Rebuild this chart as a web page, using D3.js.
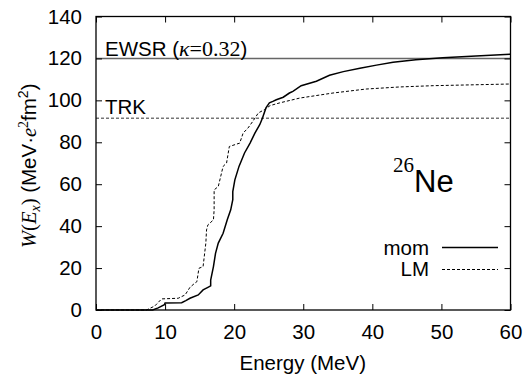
<!DOCTYPE html>
<html>
<head>
<meta charset="utf-8">
<script src="https://cdn.jsdelivr.net/npm/d3@7"></script>
<style>
  body { margin: 0; background: #fff; }
  svg { display: block; font-family: "Liberation Sans", Arial, sans-serif; }
  .serif { font-family: "Liberation Serif", "Times New Roman", serif; }
</style>
</head>
<body>
<svg id="chart" width="532" height="375"></svg>
<script>
"use strict";

// ── Data ────────────────────────────────────────────────────────────────────
const xTicks = [0, 10, 20, 30, 40, 50, 60];
const yTicks = [0, 20, 40, 60, 80, 100, 120, 140];

const EWSR = 120;
const TRK = 91.5;

// cumulative strength, "mom" (solid)
const momE = [0, 8.2, 9.0, 9.9, 10.0, 12.4, 13.0, 13.6, 14.8, 15.5, 16.2, 16.6, 16.6, 17.0, 17.3, 17.7,
  18.4, 19.0, 19.5, 19.8, 19.8, 20.1, 20.7, 21.5, 22.3, 23.0, 23.7, 24.1, 24.6, 25.1, 25.6, 26.1,
  27.1, 28.0, 28.5, 29.7, 31.9, 33.8, 35.8, 38.2, 40.6, 43.0, 46.3, 50.2, 55.0, 60.0];
const momW = [0, 0, 1.0, 2.5, 3.3, 3.5, 4.5, 5.6, 7.2, 9.6, 10.8, 11.5, 14.3, 20.7, 27.0, 31.9,
  36.6, 43.0, 47.8, 52.6, 56.5, 62.1, 68.5, 74.9, 79.6, 84.4, 88.4, 91.6, 96.4, 98.8, 99.5, 100.3,
  101.5, 103.5, 104.3, 107.0, 109.1, 112.0, 113.7, 115.3, 116.8, 118.2, 119.4, 120.3, 121.2, 122.0];

// cumulative strength, "LM" (dashed)
const lmE = [0, 7.3, 8.5, 9.5, 11.9, 12.9, 13.6, 14.3, 14.6, 14.9, 15.5, 15.9, 16.0, 16.2, 17.0, 17.1,
  17.1, 17.7, 18.4, 18.9, 19.3, 20.8, 21.3, 22.0, 22.7, 23.5, 24.4, 25.2, 26.6, 29.5, 34.3, 39.1,
  44.0, 48.8, 60.0];
const lmW = [0, 0, 1.9, 5.3, 5.6, 7.2, 10.8, 12.8, 13.5, 19.9, 20.7, 31.9, 38.2, 40.6, 43.0, 47.8,
  57.3, 58.9, 68.5, 70.1, 78.0, 79.6, 84.4, 86.8, 90.0, 94.0, 95.6, 97.5, 98.8, 101.1, 103.5, 105.4,
  106.4, 107.0, 107.8];

// ── Layout ──────────────────────────────────────────────────────────────────
const L = 96, R = 510.5, T = 16.5, B = 310;
const FS = 20.5;

const svg = d3.select("#chart");
const x = d3.scaleLinear().domain([0, 60]).range([L, R]);
const y = d3.scaleLinear().domain([0, 140]).range([B, T]);

// reference lines
svg.append("line")
  .attr("x1", L).attr("x2", R).attr("y1", y(EWSR)).attr("y2", y(EWSR))
  .attr("stroke", "#666").attr("stroke-width", 1.4);
svg.append("line")
  .attr("x1", L).attr("x2", R).attr("y1", y(TRK)).attr("y2", y(TRK))
  .attr("stroke", "#333").attr("stroke-width", 1).attr("stroke-dasharray", "3,2");

// curves
const line = d3.line().x(d => x(d[0])).y(d => y(d[1]));
svg.append("path")
  .datum(momE.map((e, i) => [e, momW[i]]))
  .attr("d", line).attr("fill", "none")
  .attr("stroke", "#000").attr("stroke-width", 1.5);
svg.append("path")
  .datum(lmE.map((e, i) => [e, lmW[i]]))
  .attr("d", line).attr("fill", "none")
  .attr("stroke", "#000").attr("stroke-width", 1).attr("stroke-dasharray", "3,2");

// axes (inward ticks on all four sides)
const tk = 6;
svg.append("g").attr("transform", `translate(0,${B})`)
  .call(d3.axisBottom(x).tickValues(xTicks).tickSizeInner(-tk).tickSizeOuter(0).tickPadding(14))
  .call(g => g.select(".domain").remove());
svg.append("g").attr("transform", `translate(0,${T})`)
  .call(d3.axisTop(x).tickValues(xTicks).tickSizeInner(-tk).tickSizeOuter(0).tickFormat(""))
  .call(g => g.select(".domain").remove());
svg.append("g").attr("transform", `translate(${L},0)`)
  .call(d3.axisLeft(y).tickValues(yTicks).tickSizeInner(-tk).tickSizeOuter(0).tickPadding(14))
  .call(g => g.select(".domain").remove());
svg.append("g").attr("transform", `translate(${R},0)`)
  .call(d3.axisRight(y).tickValues(yTicks).tickSizeInner(-tk).tickSizeOuter(0).tickFormat(""))
  .call(g => g.select(".domain").remove());

svg.selectAll(".tick text")
  .attr("font-size", FS).attr("font-family", "Liberation Sans, Arial, sans-serif").attr("fill", "#000");
svg.selectAll(".tick line").attr("stroke", "#000");

svg.append("rect")
  .attr("x", L).attr("y", T).attr("width", R - L).attr("height", B - T)
  .attr("fill", "none").attr("stroke", "#000").attr("stroke-width", 1.3);

// labels
const ew = svg.append("text").attr("x", 105).attr("y", 55.5).attr("font-size", FS);
ew.append("tspan").text("EWSR (");
ew.append("tspan").attr("class", "serif").attr("font-style", "italic").attr("font-size", 22).text("κ");
ew.append("tspan").attr("class", "serif").attr("font-size", 22).text("=0.32");
ew.append("tspan").text(")");

svg.append("text").attr("x", 105).attr("y", 113.5).attr("font-size", FS).text("TRK");

const ne = svg.append("text").attr("x", 393).attr("y", 191.5);
ne.append("tspan").attr("class", "serif").attr("font-size", 21).attr("dy", -20).text("26");
ne.append("tspan").attr("font-size", 31).attr("dy", 20).text("Ne");

// legend
const legend = [["mom", "none", 1.5, 247.5, 255], ["LM", "3,2", 1, 269.5, 276]];
legend.forEach(([name, dash, w, ly, ty]) => {
  svg.append("text").attr("x", 429).attr("y", ty).attr("font-size", FS)
    .attr("text-anchor", "end").text(name);
  svg.append("line").attr("x1", 442).attr("x2", 498).attr("y1", ly).attr("y2", ly)
    .attr("stroke", "#000").attr("stroke-width", w).attr("stroke-dasharray", dash);
});

// axis titles
svg.append("text").attr("x", (L + R) / 2 - 0.5).attr("y", 370).attr("font-size", FS)
  .attr("text-anchor", "middle").text("Energy (MeV)");

const yl = svg.append("text")
  .attr("transform", "translate(36,248) rotate(-90)")
  .attr("font-size", FS);
yl.append("tspan").attr("class", "serif").attr("font-style", "italic").text("W");
yl.append("tspan").attr("class", "serif").text("(");
yl.append("tspan").attr("class", "serif").attr("font-style", "italic").text("E");
yl.append("tspan").attr("class", "serif").attr("font-style", "italic").attr("font-size", 14).attr("dy", 4).text("x");
yl.append("tspan").attr("class", "serif").attr("dy", -4).text(")");
yl.append("tspan").text(" (MeV·");
yl.append("tspan").attr("class", "serif").attr("font-style", "italic").text("e");
yl.append("tspan").attr("class", "serif").attr("font-size", 14).attr("dy", -8).text("2");
yl.append("tspan").attr("dy", 8).text("fm");
yl.append("tspan").attr("font-size", 14).attr("dy", -8).text("2");
yl.append("tspan").attr("dy", 8).text(")");
</script>
</body>
</html>
